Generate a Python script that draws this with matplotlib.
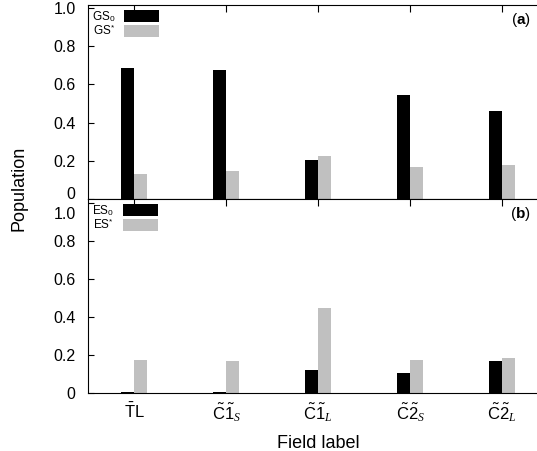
import matplotlib
matplotlib.use("Agg")
import matplotlib.pyplot as plt
import matplotlib.transforms as mtransforms
import numpy as np

plt.rcParams['font.family'] = ['Liberation Sans', 'DejaVu Sans']
plt.rcParams['mathtext.fontset'] = 'custom'
plt.rcParams['mathtext.rm'] = 'Liberation Sans'
plt.rcParams['mathtext.sf'] = 'Liberation Sans'
plt.rcParams['mathtext.bf'] = 'Liberation Sans:bold'
plt.rcParams['mathtext.it'] = 'Liberation Serif:italic'

# field labels
labels = [r'$\bar{\mathsf{T}}\mathsf{L}$',
          r'$\tilde{\mathsf{C}}\tilde{\mathsf{1}}_{S}$',
          r'$\tilde{\mathsf{C}}\tilde{\mathsf{1}}_{L}$',
          r'$\tilde{\mathsf{C}}\tilde{\mathsf{2}}_{S}$',
          r'$\tilde{\mathsf{C}}\tilde{\mathsf{2}}_{L}$']

# ground state populations (panel a)
gs0 = [0.686, 0.675, 0.205, 0.545, 0.46]
gs_star = [0.13, 0.145, 0.225, 0.17, 0.18]

# excited state populations (panel b)
es0 = [0.005, 0.005, 0.12, 0.105, 0.17]
es_star = [0.175, 0.17, 0.445, 0.175, 0.185]

yticks = [0, 0.2, 0.4, 0.6, 0.8, 1.0]
ytick_labels = ['0', '0.2', '0.4', '0.6', '0.8', '1.0']

black = '#000000'
grey = '#c0c0c0'
w = 0.14

fig = plt.figure(figsize=(5.37, 4.51), dpi=100)
ax1 = fig.add_axes([0.1639, 0.5588, 0.8566, 0.4302])
ax2 = fig.add_axes([0.1639, 0.1286, 0.8566, 0.4302])

x = np.arange(len(labels))

panels = [(ax1, gs0, gs_star, r'GS$_0$', r'GS$^{*}$', r'($\mathbf{a}$)', 1.016),
          (ax2, es0, es_star, r'ES$_0$', r'ES$^{*}$', r'($\mathbf{b}$)', 1.02)]

for ax, v0, vs, l0, ls, tag, top in panels:
    ax.bar(x - w / 2, v0, w, color=black, label=l0)
    ax.bar(x + w / 2, vs, w, color=grey, label=ls)
    ax.set_xlim(-0.5, 4.5)
    ax.set_ylim(0, top)
    ax.spines['right'].set_visible(False)
    ax.set_yticks(yticks)
    ax.set_yticklabels(ytick_labels)
    ax.tick_params(axis='y', direction='in', length=4, labelsize=11.5, pad=9)
    ax.set_xticks(x)
    ax.tick_params(axis='x', direction='in', length=5, bottom=False, top=True,
                   labeltop=False)
    ax.legend(loc='upper left', frameon=False, markerfirst=False, fontsize=8.5,
              handlelength=3.0, handleheight=1.2, labelspacing=0.0,
              handletextpad=0.7, borderpad=0.15, borderaxespad=0.2)
    ax.text(0.94, 0.925, tag, transform=ax.transAxes, fontsize=11,
            ha='center', va='center')

# nudge the labels where the two panels meet so they don't collide
up = mtransforms.ScaledTranslation(0, 6 / 100, fig.dpi_scale_trans)
down = mtransforms.ScaledTranslation(0, -10 / 100, fig.dpi_scale_trans)
t0 = ax1.yaxis.get_major_ticks()[0].label1
t0.set_transform(t0.get_transform() + up)
t5 = ax2.yaxis.get_major_ticks()[5].label1
t5.set_transform(t5.get_transform() + down)

ax1.tick_params(axis='x', labelbottom=False)
ax2.set_xticklabels(labels, fontsize=12)
ax2.tick_params(axis='x', pad=6)
ax2.set_xlabel('Field label', fontsize=13, labelpad=8)
fig.text(0.035, 0.583, 'Population', rotation=90, fontsize=13,
         ha='center', va='center')

fig.savefig('out.png', dpi=100)
